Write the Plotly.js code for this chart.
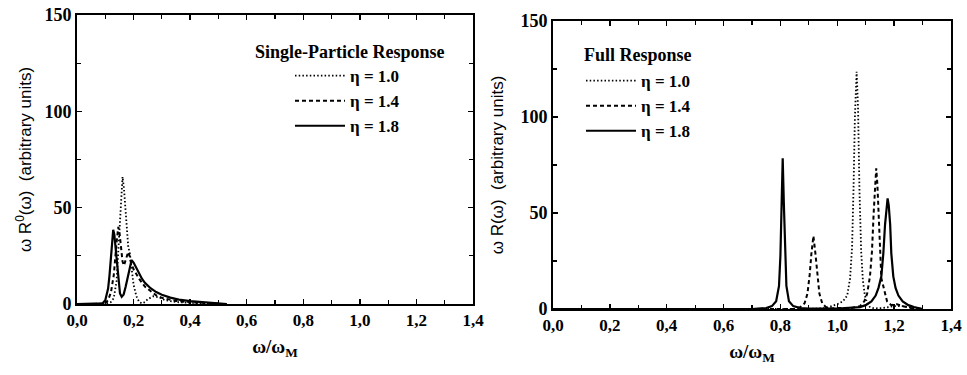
<!DOCTYPE html>
<html>
<head>
<meta charset="utf-8">
<script src="https://cdn.plot.ly/plotly-3.0.1.min.js"></script>
<style>html,body{margin:0;padding:0;background:#fff;}#chart{width:967px;height:375px;}</style>
</head>
<body>
<div id="chart"></div>
<script>
// ---- Left panel: single-particle response ----
const spX10 = [0, 0.08, 0.10, 0.12, 0.13, 0.14, 0.145, 0.15, 0.155, 0.161, 0.166, 0.171, 0.176, 0.181, 0.187, 0.192, 0.20, 0.21, 0.22, 0.23, 0.24, 0.25, 0.27, 0.29, 0.31, 0.35, 0.40, 0.45, 0.50];
const spY10 = [0, 0, 0.2, 1, 3, 12, 25, 38, 55, 66, 60, 48, 37, 30, 26, 20, 10, 4, 1, 0.3, 1, 2.5, 4, 3.5, 2, 1, 0.5, 0.2, 0];
const spX14 = [0, 0.08, 0.10, 0.11, 0.12, 0.13, 0.14, 0.146, 0.151, 0.156, 0.161, 0.166, 0.171, 0.176, 0.181, 0.186, 0.19, 0.20, 0.22, 0.24, 0.26, 0.28, 0.30, 0.35, 0.40, 0.45, 0.50];
const spY14 = [0, 0, 0.5, 2, 6, 15, 32, 40, 36, 28, 22, 20, 22, 25, 27, 25, 22, 18, 13, 9, 6.5, 4.5, 3.2, 1.6, 0.9, 0.5, 0.2];
const spX18 = [0, 0.08, 0.09, 0.10, 0.11, 0.115, 0.12, 0.125, 0.128, 0.132, 0.137, 0.142, 0.147, 0.152, 0.158, 0.165, 0.172, 0.18, 0.187, 0.193, 0.20, 0.21, 0.22, 0.23, 0.24, 0.26, 0.28, 0.30, 0.33, 0.36, 0.40, 0.45, 0.50, 0.53];
const spY18 = [0, 0, 0.3, 2, 8, 15, 26, 35, 38.5, 36, 28, 18, 10, 5.5, 3.8, 5, 9, 15, 20, 22.8, 21.5, 18.5, 15.5, 13, 11, 8.2, 6.2, 4.8, 3.3, 2.3, 1.5, 0.9, 0.4, 0];

// ---- Right panel: full response ----
const frX10 = [0, 0.9, 0.96, 1.0, 1.02, 1.035, 1.045, 1.052, 1.057, 1.062, 1.068, 1.073, 1.078, 1.084, 1.09, 1.097, 1.105, 1.115, 1.13, 1.16, 1.2, 1.23, 1.27, 1.3];
const frY10 = [0, 0, 0.5, 2.5, 4, 7, 16, 32, 62, 100, 123.6, 105, 62, 30, 15, 7, 3, 1, 0.3, 0.5, 1.5, 1.5, 0.5, 0];
const frX14 = [0, 0.85, 0.87, 0.885, 0.895, 0.903, 0.909, 0.916, 0.923, 0.929, 0.937, 0.947, 0.96, 0.98, 1.0, 1.05, 1.08, 1.095, 1.105, 1.115, 1.122, 1.128, 1.133, 1.137, 1.141, 1.146, 1.15, 1.155, 1.16, 1.165, 1.175, 1.19, 1.21, 1.23, 1.26, 1.3];
const frY14 = [0, 0, 1, 3, 8, 18, 29, 38, 29, 18, 8, 3, 1, 0.3, 0.5, 0.5, 1.5, 4, 8, 17, 30, 50, 68, 73.3, 65, 45, 28, 16, 13, 10, 4, 2, 2.5, 1.5, 0.5, 0];
const frX18 = [0, 0.7, 0.75, 0.77, 0.785, 0.795, 0.8, 0.804, 0.808, 0.812, 0.816, 0.821, 0.83, 0.845, 0.87, 0.9, 1.0, 1.05, 1.08, 1.1, 1.12, 1.135, 1.145, 1.155, 1.162, 1.168, 1.173, 1.177, 1.181, 1.186, 1.19, 1.197, 1.205, 1.215, 1.23, 1.25, 1.27, 1.3];
const frY18 = [0, 0, 0.5, 1.5, 4, 12, 28, 55, 78.5, 55, 28, 12, 4, 1.5, 0.5, 0.2, 0.2, 0.5, 1, 2, 4, 7, 11, 17, 29, 44, 54, 57.6, 54, 44, 29, 17, 11, 7, 4, 2, 1, 0];

const seriesNames = ['η = 1.0', 'η = 1.4', 'η = 1.8'];
const xTickVals = [0, 0.2, 0.4, 0.6, 0.8, 1.0, 1.2, 1.4];
const yTickVals = [0, 50, 100, 150];

const styles = [
  {color: '#000', width: 1.8, dash: '1.5px,2.2px'},
  {color: '#000', width: 2, dash: '4px,3px'},
  {color: '#000', width: 2.2, dash: 'solid'}
];

const leftData = [[spX10, spY10], [spX14, spY14], [spX18, spY18]];
const rightData = [[frX10, frY10], [frX14, frY14], [frX18, frY18]];

const traces = [];
leftData.forEach((d, i) => traces.push({
  x: d[0], y: d[1], type: 'scatter', mode: 'lines', name: seriesNames[i],
  line: styles[i], xaxis: 'x', yaxis: 'y', legend: 'legend', hoverinfo: 'skip'
}));
rightData.forEach((d, i) => traces.push({
  x: d[0], y: d[1], type: 'scatter', mode: 'lines', name: seriesNames[i],
  line: styles[i], xaxis: 'x2', yaxis: 'y2', legend: 'legend2', hoverinfo: 'skip'
}));

const SERIF = 'Liberation Serif';
const SANS = 'Liberation Sans';
const serifBold = {family: SERIF, size: 18, color: '#000', weight: 'bold'};
const sans = {family: SANS, size: 17, color: '#000'};

function xAxis(domain, anchor) {
  return {
    domain: domain, anchor: anchor, range: [0, 1.4], tickvals: xTickVals, tickformat: '.1f',
    ticks: 'inside', ticklen: 5, tickwidth: 1.5, tickcolor: '#000',
    minor: {dtick: 0.1, tick0: 0, ticks: 'inside', ticklen: 4, tickwidth: 1.2, tickcolor: '#000'},
    showline: true, linewidth: 2, linecolor: '#000', mirror: 'ticks',
    showgrid: false, zeroline: false,
    tickfont: {family: SERIF, size: 17, color: '#000', weight: 'bold'},
    title: {text: 'ω/ω<sub>M</sub>', font: {family: SERIF, size: 19, color: '#000', weight: 'bold'}, standoff: 10}
  };
}
function yAxis(domain, anchor, title, standoff) {
  return {
    domain: domain, anchor: anchor, range: [0, 150], tickvals: yTickVals,
    ticks: 'inside', ticklen: 5, tickwidth: 1.5, tickcolor: '#000',
    minor: {dtick: 25, tick0: 0, ticks: 'inside', ticklen: 4, tickwidth: 1.2, tickcolor: '#000'},
    showline: true, linewidth: 2, linecolor: '#000', mirror: 'ticks',
    showgrid: false, zeroline: false,
    tickfont: serifBold,
    title: {text: title, font: sans, standoff: standoff}
  };
}

const layout = {
  width: 967, height: 375,
  margin: {l: 0, r: 0, t: 0, b: 0},
  paper_bgcolor: '#fff', plot_bgcolor: '#fff',
  separators: ', ',
  showlegend: true,
  xaxis: xAxis([77/967, 473/967], 'y'),
  yaxis: yAxis([71/375, 360/375], 'x', 'ω R<sup>0</sup>(ω)  (arbitrary units)', 8),
  xaxis2: xAxis([553/967, 951/967], 'y2'),
  yaxis2: yAxis([66/375, 354/375], 'x2', 'ω R(ω)  (arbitrary units)', 12),
  legend: {
    x: 290/967, y: 1 - 58/375, xanchor: 'left', yanchor: 'top',
    bgcolor: 'rgba(0,0,0,0)', borderwidth: 0, itemwidth: 50,
    font: {family: SERIF, size: 17, color: '#000', weight: 'bold'}
  },
  legend2: {
    x: 581/967, y: 1 - 63/375, xanchor: 'left', yanchor: 'top',
    bgcolor: 'rgba(0,0,0,0)', borderwidth: 0, itemwidth: 50,
    font: {family: SERIF, size: 17, color: '#000', weight: 'bold'}
  },
  annotations: [
    {text: 'Single-Particle Response', xref: 'paper', yref: 'paper', x: 349/967, y: 1 - 52/375,
     xanchor: 'center', yanchor: 'middle', showarrow: false,
     font: {family: SERIF, size: 18, color: '#000', weight: 'bold'}},
    {text: 'Full Response', xref: 'paper', yref: 'paper', x: 638/967, y: 1 - 55/375,
     xanchor: 'center', yanchor: 'middle', showarrow: false,
     font: {family: SERIF, size: 18, color: '#000', weight: 'bold'}}
  ]
};

Plotly.newPlot('chart', traces, layout, {staticPlot: true, displayModeBar: false});
</script>
</body>
</html>
